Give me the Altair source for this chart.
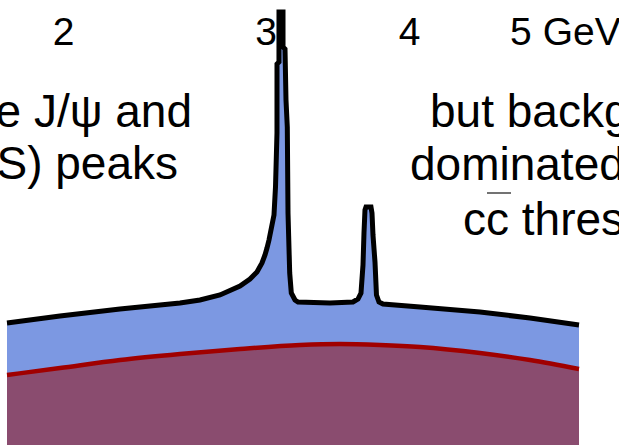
import altair as alt
import pandas as pd

# Dimuon invariant mass (GeV) and yield of the full spectrum (arbitrary units)
mass_total = [1.7882, 1.9885, 2.2426, 2.5291, 2.6325, 2.7401, 2.8522, 2.9100,
              2.9510, 2.9808, 2.9988, 3.0108, 3.0229, 3.0411, 3.0534, 3.0626,
              3.0717, 3.0718, 3.0840, 3.0841, 3.1090, 3.1091, 3.1215, 3.1277,
              3.1359, 3.1403, 3.1510, 3.1611, 3.1846, 3.2039, 3.4159, 3.5771,
              3.6131, 3.6349, 3.6495, 3.6568, 3.6641, 3.6715, 3.7084, 3.7159,
              3.7233, 3.7383, 3.7495, 3.7684, 3.7987, 4.0911, 4.6139, 5.1001,
              5.6263]
yield_total = [122, 129, 136, 142, 145, 150, 159, 166,
               173, 182, 190, 197, 205, 220, 230, 258,
               312, 381, 383, 433, 433, 398, 396, 345,
               318, 232, 172, 152, 145, 143, 142, 143,
               146, 152, 180, 212, 235, 238, 238, 232,
               210, 183, 150, 143, 141, 138, 133, 127,
               120]

# Smooth continuum underneath the resonances
mass_bkg = [1.7882, 1.9885, 2.2426, 2.5291, 2.8522, 3.2168, 3.4851, 3.7760,
            4.0911, 4.6139, 5.1001, 5.6263]
yield_bkg = [70, 77, 85, 91, 96, 100, 101, 100, 98, 92, 85, 76]

# Mass ticks printed along the top
tick_mass = [2, 3, 4, 5]
tick_text = ["2", "3", "4", "5 GeV"]

left_lines = ["the J/ψ and", "ψ(2S) peaks"]
right_lines = ["but background", "dominated by", "cc threshold"]

total = pd.DataFrame({"mass": mass_total, "y": yield_total})
bkg = pd.DataFrame({"mass": mass_bkg, "y": yield_bkg})
ticks = pd.DataFrame({"mass": tick_mass, "label": tick_text})

PAD_L = 7  # left padding; annotation x positions below are page pixels

xs = alt.Scale(type="log", domain=[1.7882, 5.6263], nice=False)
ys = alt.Scale(domain=[0, 445], nice=False, zero=True)
X = alt.X("mass:Q", scale=xs, axis=None)
Y = alt.Y("y:Q", scale=ys, axis=None)

total_fill = alt.Chart(total).mark_area(color="#7c98e2", opacity=1).encode(x=X, y=Y)
bkg_fill = alt.Chart(bkg).mark_area(color="#8a4c6f", opacity=1, interpolate="monotone").encode(x=X, y=Y)
total_line = alt.Chart(total).mark_line(color="#000000", strokeWidth=5,
                                        strokeJoin="miter").encode(x=X, y=Y)
bkg_line = alt.Chart(bkg).mark_line(color="#a00000", strokeWidth=4.5,
                                    interpolate="monotone").encode(x=X, y=Y)

tick_labels = alt.Chart(ticks).mark_text(
    font="Liberation Sans", fontSize=39, color="#000000",
    align="left", baseline="alphabetic", dx=-10
).encode(x=X, y=alt.value(45), text="label:N")

FS = 46
def note(line, x, y, align):
    return alt.Chart(pd.DataFrame({"t": [line]})).mark_text(
        font="Liberation Sans", fontSize=FS, color="#000000",
        align=align, baseline="alphabetic", x=x - PAD_L, y=y
    ).encode(text="t:N")

notes = [
    note(left_lines[0], 192, 127, "right"),
    note(left_lines[1], 178, 179, "right"),
    note(right_lines[0], 430, 127, "left"),
    note(right_lines[1], 410, 180, "left"),
    note(right_lines[2], 463, 235, "left"),
]

# bar over the second c of "cc" (anti-charm)
cbar = alt.Chart(pd.DataFrame({"k": [0]})).mark_rule(
    color="#444444", strokeWidth=1.5
).encode(x=alt.value(487 - PAD_L), x2=alt.value(511 - PAD_L), y=alt.value(193))

chart = alt.layer(
    total_fill, bkg_fill, total_line, bkg_line, tick_labels, *notes, cbar
).properties(
    width=572, height=445,
    padding={"left": PAD_L, "right": 40, "top": 0, "bottom": 0},
    autosize=alt.AutoSizeParams(type="none"),
    background="#ffffff",
).configure_view(stroke=None)

chart.save("out.html", embed_options={"renderer": "svg", "actions": False})
